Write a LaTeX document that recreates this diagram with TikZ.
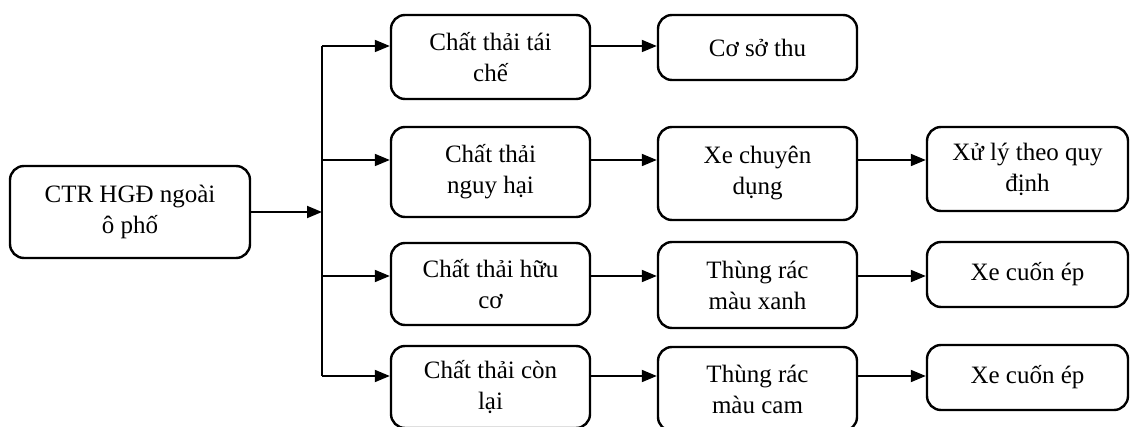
\documentclass[tikz,border=0pt]{standalone}
\usepackage{fontspec}
\setmainfont{Liberation Serif}
\usetikzlibrary{arrows.meta}

\begin{document}
\begin{tikzpicture}[x=1pt, y=-1pt,
        box/.style={draw, line width=2.4pt, rounded corners=14pt, align=center,
            minimum width=199pt, inner sep=0pt,
            font=\fontsize{25}{31}\selectfont},
        arr/.style={line width=1.8pt, -{Triangle[length=15pt, width=12pt]}}]
            \useasboundingbox (0,0) rectangle (1132,427);

            \node[box, minimum width=240pt, minimum height=92pt] (src) at (130, 212) {CTR HGĐ ngoài\\ô phố};

            \node[box, minimum height=84pt] (c1) at (490.5, 57) {Chất thải tái\\chế};
            \node[box, minimum height=90pt] (c2) at (490.5, 172) {Chất thải\\nguy hại};
            \node[box, minimum height=82pt] (c3) at (490.5, 284) {Chất thải hữu\\cơ};
            \node[box, minimum height=82pt] (c4) at (490.5, 387) {Chất thải còn\\lại};

            \node[box, minimum height=65pt] (d1) at (757.5, 47.5) {Cơ sở thu};
            \node[box, minimum height=93pt] (d2) at (757.5, 173.5) {Xe chuyên\\dụng};
            \node[box, minimum height=86pt] (d3) at (757.5, 285) {Thùng rác\\màu xanh};
            \node[box, minimum height=84pt] (d4) at (757.5, 389) {Thùng rác\\màu cam};

            \node[box, minimum width=201pt, minimum height=84pt] (e2) at (1027.5, 169) {Xử lý theo quy\\định};
            \node[box, minimum width=201pt, minimum height=65pt] (e3) at (1027.5, 274.5) {Xe cuốn ép};
            \node[box, minimum width=201pt, minimum height=65pt] (e4) at (1027.5, 377.5) {Xe cuốn ép};

            % trunk
            \coordinate (t0) at (322, 212);
            \coordinate (t1) at (322, 46);
            \coordinate (t2) at (322, 160);
            \coordinate (t3) at (322, 276);
            \coordinate (t4) at (322, 376);

            \draw[arr] (src.east |- t0) -- (t0);
            \draw[line width=1.8pt] (t1) -- (t4);
            \foreach \i in {1,2,3,4}
                \draw[arr] (t\i) -- (t\i -| c\i.west);

            \draw[arr] (c1.east |- t1) -- (d1.west |- t1);
            \draw[arr] (c2.east |- t2) -- (d2.west |- t2);
            \draw[arr] (c3.east |- t3) -- (d3.west |- t3);
            \draw[arr] (c4.east |- t4) -- (d4.west |- t4);

            \draw[arr] (d2.east |- t2) -- (e2.west |- t2);
            \draw[arr] (d3.east |- t3) -- (e3.west |- t3);
            \draw[arr] (d4.east |- t4) -- (e4.west |- t4);
        \end{tikzpicture}
\end{document}
